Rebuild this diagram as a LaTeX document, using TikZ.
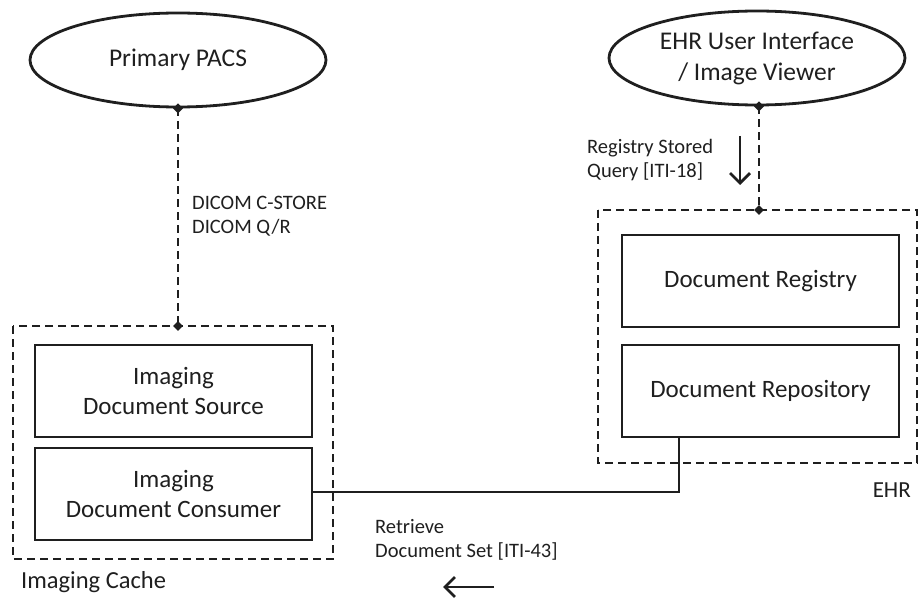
\documentclass[tikz,border=0pt]{standalone}
\usepackage{fontspec}
\setmainfont{Carlito}
\usetikzlibrary{shapes.geometric,arrows.meta}
\colorlet{ink}{black!88}
\tikzset{
  every node/.style={text=ink},
  actor/.style={draw=ink, ellipse, line width=2.8pt, minimum width=296pt, minimum height=94pt, align=center, font=\fontsize{25.5}{31}\selectfont, inner sep=0pt},
  comp/.style={draw=ink, rectangle, line width=2.9pt, minimum width=277pt, minimum height=92pt, align=center, font=\fontsize{25}{30}\selectfont, inner sep=0pt},
  group/.style={draw=ink, rectangle, line width=2.7pt, dash pattern=on 8pt off 5pt},
  link/.style={draw=ink, line width=2.7pt, dash pattern=on 8pt off 5pt},
  wire/.style={draw=ink, line width=2.9pt},
  lbl/.style={align=left, anchor=west, font=\fontsize{20.5}{24}\selectfont, inner sep=0pt},
  dot/.style={diamond, fill=ink, inner sep=0pt, minimum size=10pt},
  flow/.style={draw=ink, -{Straight Barb[length=10pt,width=20pt,line width=2.8pt]}, line width=2.9pt}
}
\begin{document}
\begin{tikzpicture}[x=1pt,y=-1pt]
\useasboundingbox (0,0) rectangle (922,599);

% actors
\node[actor] (pacs) at (178,60) {Primary PACS};
\node[actor] (ehrui) at (757,58) {EHR User Interface\\/ Image Viewer};

% imaging cache group
\draw[group] (13,326) rectangle (333,559);
\coordinate (cachetop) at (178,326);
\node[comp] (src) at (173.5,391) {Imaging\\Document Source};
\node[comp] (cons) at (173.5,494) {Imaging\\Document Consumer};
\node[anchor=west, font=\fontsize{24.5}{28}\selectfont, inner sep=0pt] (cachelbl) at (21,582) {Imaging Cache};

% EHR group
\draw[group] (598,210) rectangle (917,463);
\coordinate (ehrtop) at (759,210);
\node[comp] (reg) at (760.5,281) {Document Registry};
\node[comp] (repo) at (760.5,391) {Document Repository};
\node[anchor=east, font=\fontsize{23}{26}\selectfont, inner sep=0pt] (ehrlbl) at (911,490) {EHR};

% dashed links with diamond end points
\draw[link] (pacs.south) -- (cachetop);
\node[dot] at (pacs.south) {};
\node[dot] at (cachetop) {};
\draw[link] (ehrui.south -| ehrtop) -- (ehrtop);
\node[dot] at (ehrui.south -| ehrtop) {};
\node[dot] at (ehrtop) {};

% retrieve connection
\coordinate (bend) at (679,492);
\draw[wire] (cons.east |- bend) -- (bend) -- (bend |- repo.south);

% labels
\node[lbl] (dicom) at (192,216) {DICOM C-STORE\\DICOM Q/R};
\node[lbl] (rsq) at (587,160) {Registry Stored\\Query [ITI-18]};
\node[lbl] (rds) at (375,540) {Retrieve\\Document Set [ITI-43]};

% direction arrows
\coordinate (qa) at (740,136);
\coordinate (qb) at (740,185);
\draw[flow] (qa) -- (qb);
\coordinate (ra) at (494,587);
\coordinate (rb) at (443,587);
\draw[flow] (ra) -- (rb);
\end{tikzpicture}
\end{document}
